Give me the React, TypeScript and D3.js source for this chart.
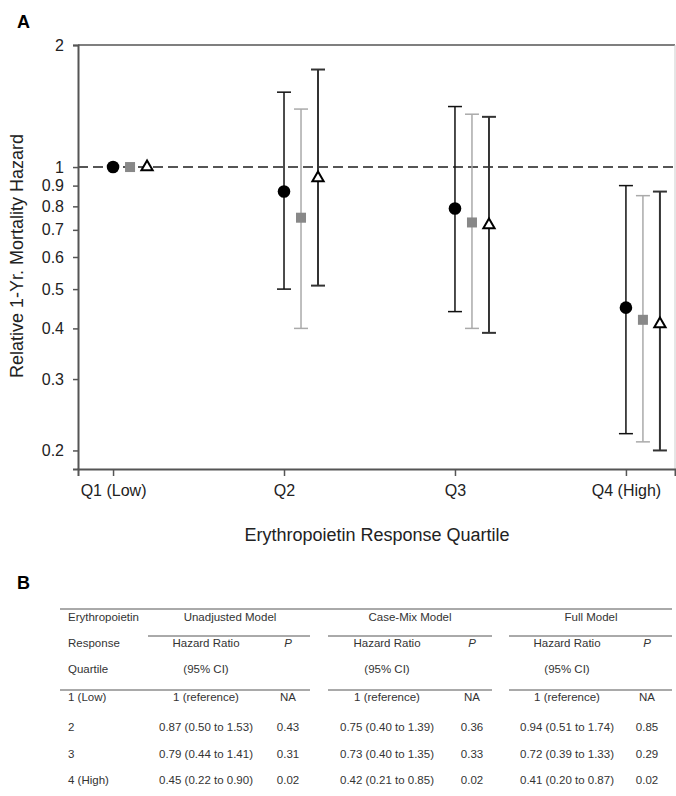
import * as d3 from "d3";
import { useEffect, useRef } from "react";

const quartiles = ["Q1 (Low)", "Q2", "Q3", "Q4 (High)"];
const yTicks = [0.2, 0.3, 0.4, 0.5, 0.6, 0.7, 0.8, 0.9, 1, 2];

// hazard ratio with 95% CI, per model, Q1 is the reference
const unadjHR = [1, 0.87, 0.79, 0.45];
const unadjLo = [null, 0.5, 0.44, 0.22];
const unadjHi = [null, 1.53, 1.41, 0.9];
const caseHR = [1, 0.75, 0.73, 0.42];
const caseLo = [null, 0.4, 0.4, 0.21];
const caseHi = [null, 1.39, 1.35, 0.85];
const fullHR = [1, 0.94, 0.72, 0.41];
const fullLo = [null, 0.51, 0.39, 0.2];
const fullHi = [null, 1.74, 1.33, 0.87];

const unadjP = ["NA", "0.43", "0.31", "0.02"];
const caseP = ["NA", "0.36", "0.33", "0.02"];
const fullP = ["NA", "0.85", "0.29", "0.02"];
const rowLabels = ["1 (Low)", "2", "3", "4 (High)"];

const fmtCI = (hr: number, lo: number | null, hi: number | null) =>
  lo == null ? "1 (reference)" : `${hr.toFixed(2)} (${lo.toFixed(2)} to ${hi!.toFixed(2)})`;

export default function App() {
  const ref = useRef<SVGSVGElement>(null);

  useEffect(() => {
    const svg = d3.select(ref.current);
    svg.selectAll("*").remove();

    const left = 78;
    const right = 675;
    const top = 45;
    const bottom = 469;

    const x = d3.scaleLinear().domain([-0.205, 3.287]).range([left, right]);
    const y = d3.scaleLog().domain([0.18, 2]).range([bottom, top]);

    // frame
    svg.append("line").attr("x1", left).attr("x2", right).attr("y1", top).attr("y2", top)
      .attr("stroke", "#555").attr("stroke-width", 1.5);
    svg.append("line").attr("x1", right).attr("x2", right).attr("y1", top).attr("y2", bottom)
      .attr("stroke", "#ccc").attr("stroke-width", 1);

    // y axis
    const yAxis = d3.axisLeft(y).tickValues(yTicks).tickFormat((d) => `${d}`).tickSize(5).tickPadding(9);
    const gy = svg.append("g").attr("transform", `translate(${left},0)`).call(yAxis);
    gy.select(".domain").attr("stroke", "#555").attr("stroke-width", 2);
    gy.selectAll(".tick line").attr("stroke", "#555").attr("stroke-width", 1.5);
    gy.selectAll(".tick text").attr("font-size", 16).attr("fill", "#222")
      .attr("font-family", "Liberation Sans, Arial, sans-serif");

    // x axis
    const xAxis = d3.axisBottom(x).tickValues([0, 1, 2, 3])
      .tickFormat((d) => quartiles[d as number]).tickSize(7).tickPadding(9);
    const gx = svg.append("g").attr("transform", `translate(0,${bottom})`).call(xAxis);
    gx.select(".domain").attr("stroke", "#555").attr("stroke-width", 2);
    gx.selectAll(".tick line").attr("stroke", "#555").attr("stroke-width", 1.5);
    gx.selectAll(".tick text").attr("font-size", 16).attr("fill", "#222")
      .attr("font-family", "Liberation Sans, Arial, sans-serif");

    // reference line at 1
    svg.append("line").attr("x1", left).attr("x2", right).attr("y1", y(1)).attr("y2", y(1))
      .attr("stroke", "#555").attr("stroke-width", 2).attr("stroke-dasharray", "10,5");

    const series = [
      { hr: unadjHR, lo: unadjLo, hi: unadjHi, dx: 0, bar: "#111", bw: 1.5, shape: "circle" },
      { hr: caseHR, lo: caseLo, hi: caseHi, dx: 17, bar: "#aaa", bw: 1.5, shape: "square" },
      { hr: fullHR, lo: fullLo, hi: fullHi, dx: 34, bar: "#333", bw: 2, shape: "triangle" },
    ];

    series.forEach((s) => {
      const g = svg.append("g");
      const idx = d3.range(s.hr.length);
      const withCI = idx.filter((i) => s.lo[i] != null);
      g.selectAll(".bar").data(withCI).enter().append("line")
        .attr("x1", (i) => x(i) + s.dx).attr("x2", (i) => x(i) + s.dx)
        .attr("y1", (i) => y(s.lo[i] as number)).attr("y2", (i) => y(s.hi[i] as number))
        .attr("stroke", s.bar).attr("stroke-width", s.bw);
      ["lo", "hi"].forEach((k) => {
        const arr = (s as any)[k] as (number | null)[];
        g.selectAll(`.cap${k}`).data(withCI).enter().append("line")
          .attr("x1", (i) => x(i) + s.dx - 7).attr("x2", (i) => x(i) + s.dx + 7)
          .attr("y1", (i) => y(arr[i] as number)).attr("y2", (i) => y(arr[i] as number))
          .attr("stroke", s.bar).attr("stroke-width", s.bw);
      });
      if (s.shape === "circle") {
        g.selectAll(".pt").data(idx).enter().append("circle")
          .attr("cx", (i) => x(i) + s.dx).attr("cy", (i) => y(s.hr[i])).attr("r", 6.3)
          .attr("fill", "#000");
      } else if (s.shape === "square") {
        g.selectAll(".pt").data(idx).enter().append("rect")
          .attr("x", (i) => x(i) + s.dx - 5).attr("y", (i) => y(s.hr[i]) - 5)
          .attr("width", 10).attr("height", 10).attr("fill", "#888");
      } else {
        const tri = d3.symbol().type(d3.symbolTriangle).size(55);
        g.selectAll(".pt").data(idx).enter().append("path")
          .attr("d", tri)
          .attr("transform", (i) => `translate(${x(i) + s.dx},${y(s.hr[i])})`)
          .attr("fill", "#fff").attr("stroke", "#000").attr("stroke-width", 2);
      }
    });

    const font = "Liberation Sans, Arial, sans-serif";

    // titles
    svg.append("text").attr("x", 17).attr("y", 28).text("A")
      .attr("font-size", 18).attr("font-weight", "bold").attr("font-family", font);
    svg.append("text").attr("transform", `translate(23,256) rotate(-90)`)
      .attr("text-anchor", "middle").attr("font-size", 18).attr("fill", "#222")
      .attr("font-family", font).text("Relative 1-Yr. Mortality Hazard");
    svg.append("text").attr("x", 377).attr("y", 541).attr("text-anchor", "middle")
      .attr("font-size", 18).attr("fill", "#222").attr("font-family", font)
      .text("Erythropoietin Response Quartile");

    // panel B table
    svg.append("text").attr("x", 17).attr("y", 589).text("B")
      .attr("font-size", 18).attr("font-weight", "bold").attr("font-family", font);

    const tg = svg.append("g").attr("font-family", font).attr("font-size", 11.5).attr("fill", "#333");
    const rule = (x1: number, x2: number, yy: number) =>
      tg.append("line").attr("x1", x1).attr("x2", x2).attr("y1", yy).attr("y2", yy)
        .attr("stroke", "#555").attr("stroke-width", 1);
    const txt = (xx: number, yy: number, s: string, anchor = "middle", italic = false) =>
      tg.append("text").attr("x", xx).attr("y", yy).attr("text-anchor", anchor)
        .attr("font-style", italic ? "italic" : "normal").text(s);

    const rowY = [617, 643, 669, 697, 727, 754, 780].map((v) => v + 4);
    rule(60, 672, 609);

    txt(68, rowY[0], "Erythropoietin", "start");
    txt(68, rowY[1], "Response", "start");
    txt(68, rowY[2], "Quartile", "start");

    const models = [
      { name: "Unadjusted Model", nameX: 230, hrX: 206, pX: 288, l1: 148, l2: 310, hr: unadjHR, lo: unadjLo, hi: unadjHi, p: unadjP },
      { name: "Case-Mix Model", nameX: 410, hrX: 387, pX: 472, l1: 328, l2: 492, hr: caseHR, lo: caseLo, hi: caseHi, p: caseP },
      { name: "Full Model", nameX: 591, hrX: 567, pX: 647, l1: 509, l2: 672, hr: fullHR, lo: fullLo, hi: fullHi, p: fullP },
    ];

    models.forEach((m, mi) => {
      txt(m.nameX, rowY[0], m.name);
      rule(m.l1, m.l2, 636);
      rule(mi === 0 ? 60 : m.l1, m.l2, 690);
      txt(m.hrX, rowY[1], "Hazard Ratio");
      txt(m.pX, rowY[1], "P", "middle", true);
      txt(m.hrX, rowY[2], "(95% CI)");
      m.hr.forEach((v, i) => {
        txt(m.hrX, rowY[3 + i], fmtCI(v, m.lo[i], m.hi[i]));
        txt(m.pX, rowY[3 + i], m.p[i]);
      });
    });

    rowLabels.forEach((r, i) => txt(68, rowY[3 + i], r, "start"));
  }, []);

  return (
    <svg
      ref={ref}
      width={676}
      height={796}
      style={{ position: "absolute", left: 0, top: 0, background: "#fff" }}
    />
  );
}
